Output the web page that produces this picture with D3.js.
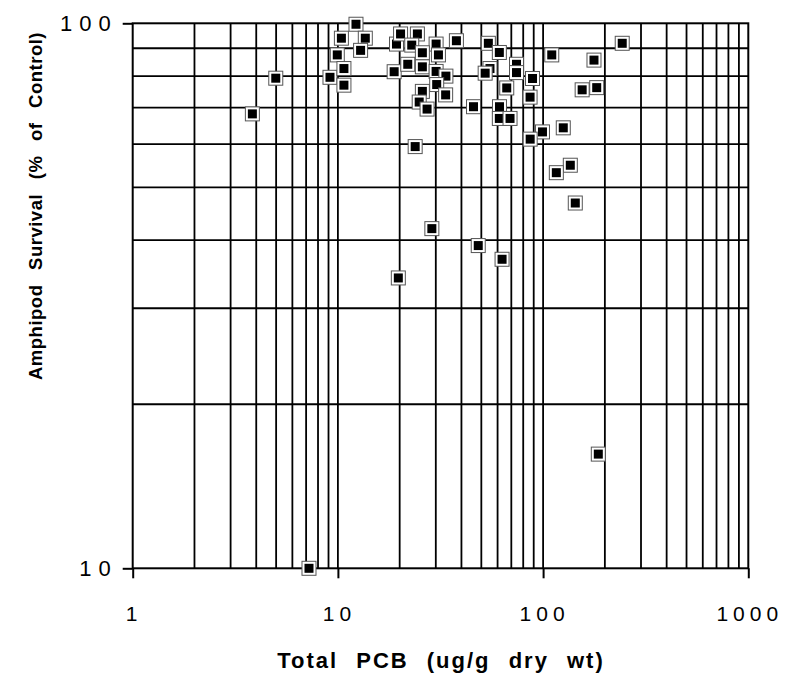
<!DOCTYPE html>
<html>
<head>
<meta charset="utf-8">
<script src="https://cdn.jsdelivr.net/npm/d3@7"></script>
<style>
  html, body { margin: 0; padding: 0; background: #fff; }
  svg { display: block; }
  text { font-family: "Liberation Sans", Arial, sans-serif; fill: #000; }
</style>
</head>
<body>
<svg id="chart" width="785" height="677"></svg>
<script>
// Data
const pcb = [3.83, 4.98, 7.23, 9.15, 9.93, 10.4, 10.7, 10.7, 12.25, 13.6,
  12.9, 18.8, 19.3, 20.2, 24.4, 22.9, 30.1, 37.8, 25.8, 30.9,
  21.9, 25.8, 30.1, 33.6, 30.3, 25.8, 33.5, 24.9, 27.2, 23.8,
  19.7, 28.7, 48.3, 63.1, 54.1, 61.2, 74.2, 74.2, 55.1, 52.2,
  88.8, 66.5, 86.4, 45.8, 61.3, 61.2, 69.0, 99.3, 86.5, 125.4,
  110.2, 243, 177, 155, 182.5, 135.7, 116, 143.5, 185.8];
const survival = [68.2, 79.3, 10.0, 79.6, 87.5, 93.9, 82.6, 77.0, 99.6, 93.9,
  89.2, 81.5, 91.6, 95.6, 95.6, 91.2, 91.6, 92.9, 88.3, 87.5,
  84.1, 83.2, 81.6, 80.0, 77.2, 75.0, 73.9, 71.7, 69.6, 59.4,
  34.1, 42.0, 39.1, 36.9, 91.9, 88.4, 84.1, 81.2, 82.6, 81.0,
  79.2, 76.1, 73.2, 70.3, 70.3, 66.9, 66.9, 63.2, 61.3, 64.3,
  87.5, 91.9, 85.6, 75.5, 76.2, 54.9, 53.2, 46.8, 16.2];
const xTickValues = [1, 10, 100, 1000];
const xTickLabels = ["1", "10", "100", "1000"];
const yTickValues = [10, 100];
const yTickLabels = ["10", "100"];
const xGridValues = [2,3,4,5,6,7,8,9,10,20,30,40,50,60,70,80,90,100,200,300,400,500,600,700,800,900];
const yGridValues = [20,30,40,50,60,70,80,90];
const xTitle = "Total PCB (ug/g dry wt)";
const yTitle = "Amphipod Survival (% of Control)";

const svg = d3.select("#chart");
const m = { left: 132.7, top: 23.3, right: 748.3, bottom: 568.3 };

const x = d3.scaleLog().domain([1, 1000]).range([m.left, m.right]);
const y = d3.scaleLog().domain([10, 100]).range([m.bottom, m.top]);

const grid = svg.append("g").attr("stroke", "#000").attr("stroke-width", 1.8);
grid.selectAll("line.vx").data(xGridValues).join("line")
  .attr("x1", d => x(d)).attr("x2", d => x(d))
  .attr("y1", m.top).attr("y2", m.bottom);
grid.selectAll("line.hy").data(yGridValues).join("line")
  .attr("x1", m.left).attr("x2", m.right)
  .attr("y1", d => y(d)).attr("y2", d => y(d));

// Frame
svg.append("rect")
  .attr("x", m.left).attr("y", m.top)
  .attr("width", m.right - m.left).attr("height", m.bottom - m.top)
  .attr("fill", "none").attr("stroke", "#000").attr("stroke-width", 2);

// Axes via d3 axis generators
const xAxis = d3.axisBottom(x).tickValues(xTickValues)
  .tickFormat((d, i) => xTickLabels[i]).tickSize(10).tickPadding(28);
const gx = svg.append("g").attr("transform", `translate(0,${m.bottom})`).call(xAxis);
gx.select(".domain").remove();
gx.selectAll(".tick line").attr("stroke", "#000").attr("stroke-width", 2);
gx.selectAll(".tick text")
  .style("font-family", "'Liberation Sans', Arial, sans-serif")
  .style("font-size", "21px").style("letter-spacing", "5px")
  .attr("dx", "1px");

const yAxis = d3.axisLeft(y).tickValues(yTickValues)
  .tickFormat((d, i) => yTickLabels[i]).tickSize(10).tickPadding(5);
const gy = svg.append("g").attr("transform", `translate(${m.left},0)`).call(yAxis);
gy.select(".domain").remove();
gy.selectAll(".tick line").attr("stroke", "#000").attr("stroke-width", 2);
gy.selectAll(".tick text")
  .style("font-family", "'Liberation Sans', Arial, sans-serif")
  .style("font-size", "22px").style("letter-spacing", "7px");

// Points
const data = pcb.map((v, i) => ({ x: v, y: survival[i] }));
const pts = svg.append("g").selectAll("g").data(data).join("g")
  .attr("transform", d => `translate(${x(d.x)},${y(d.y)})`);
pts.append("rect").attr("x", -7).attr("y", -7).attr("width", 14).attr("height", 14)
  .attr("fill", "#fff").attr("stroke", "#555").attr("stroke-width", 1);
pts.append("rect").attr("x", -4.5).attr("y", -4.5).attr("width", 9).attr("height", 9)
  .attr("fill", "#000");

// Titles
svg.append("text")
  .attr("x", 441).attr("y", 668)
  .attr("text-anchor", "middle")
  .style("font-weight", "bold").style("font-size", "22px")
  .style("letter-spacing", "2px").style("word-spacing", "10px")
  .text(xTitle);

svg.append("text")
  .attr("transform", "translate(42,206) rotate(-90)")
  .attr("text-anchor", "middle")
  .style("font-weight", "bold").style("font-size", "18.5px")
  .style("letter-spacing", "0.5px").style("word-spacing", "9px")
  .text(yTitle);
</script>
</body>
</html>
